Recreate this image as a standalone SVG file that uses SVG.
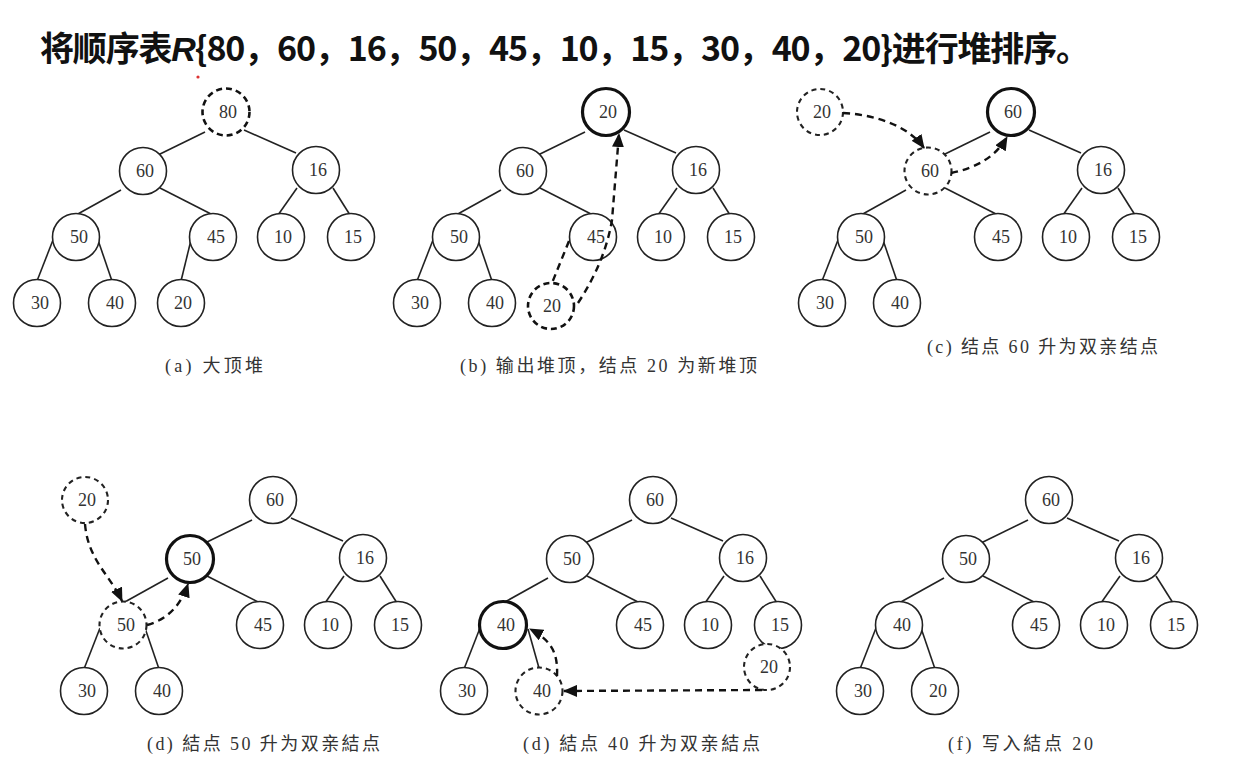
<svg xmlns="http://www.w3.org/2000/svg" width="1242" height="765" viewBox="0 0 1242 765">
<style>
.n{fill:#fff;stroke:#222;stroke-width:1.6}
.nb{fill:#fff;stroke:#111;stroke-width:3.2}
.nd{fill:#fff;stroke:#222;stroke-width:2.1;stroke-dasharray:5 4}
.nd2{fill:#fff;stroke:#111;stroke-width:2.6;stroke-dasharray:6 4}
.t{font-family:"Liberation Serif","DejaVu Serif",serif;font-size:18px;fill:#333;text-anchor:middle}
.e{stroke:#222;stroke-width:1.6;fill:none}
.ed{stroke:#111;stroke-width:2.4;fill:none;stroke-dasharray:7 5}
.cap{font-family:"Liberation Serif","Noto Sans CJK SC",serif;font-size:18px;fill:#333}
.title{font-family:"Noto Sans CJK SC","Liberation Sans",sans-serif;font-size:34px;font-weight:bold;fill:#111}
</style>
<defs>
<marker id="ah" markerUnits="userSpaceOnUse" markerWidth="14" markerHeight="12" viewBox="0 0 14 12" refX="13" refY="6" orient="auto"><path d="M0,0 L14,6 L0,12 z" fill="#111"/></marker>
</defs>

<g id="title">
<text class="title" x="40" y="61" textLength="1050" lengthAdjust="spacing">将顺序表<tspan font-style="italic" font-family="Liberation Sans">R</tspan>{80，60，16，50，45，10，15，30，40，20}进行堆排序。</text>
<circle cx="198" cy="77" r="1.6" fill="#d33"/>
</g>

<!-- Panel (a) -->
<g id="panel-a">
<g id="a-edges">
<line class="e" x1="205" y1="132" x2="158" y2="155"/>
<line class="e" x1="244" y1="130" x2="296" y2="153"/>
<line class="e" x1="121" y1="190" x2="76" y2="215"/>
<line class="e" x1="160" y1="188" x2="213" y2="215"/>
<line class="e" x1="297" y1="188" x2="278" y2="215"/>
<line class="e" x1="333" y1="188" x2="350" y2="215"/>
<line class="e" x1="53" y1="240" x2="37" y2="281"/>
<line class="e" x1="98" y1="240" x2="112" y2="281"/>
<line class="e" x1="191" y1="240" x2="181" y2="281"/>
</g>
<g id="a-80"><circle class="nd2" cx="226" cy="112" r="23.5"/><text class="t" x="228" y="118">80</text></g>
<g id="a-60"><circle class="n" cx="143" cy="171" r="23.5"/><text class="t" x="145" y="177">60</text></g>
<g id="a-16"><circle class="n" cx="316" cy="170" r="23.5"/><text class="t" x="318" y="176">16</text></g>
<g id="a-50"><circle class="n" cx="76" cy="237" r="23.5"/><text class="t" x="79" y="243">50</text></g>
<g id="a-45"><circle class="n" cx="213" cy="237" r="23.5"/><text class="t" x="216" y="243">45</text></g>
<g id="a-10"><circle class="n" cx="281" cy="237" r="23.5"/><text class="t" x="283" y="243">10</text></g>
<g id="a-15"><circle class="n" cx="351" cy="237" r="23.5"/><text class="t" x="353" y="243">15</text></g>
<g id="a-30"><circle class="n" cx="37" cy="303" r="23.5"/><text class="t" x="40" y="309">30</text></g>
<g id="a-40"><circle class="n" cx="112" cy="303" r="23.5"/><text class="t" x="115" y="309">40</text></g>
<g id="a-20"><circle class="n" cx="181" cy="303" r="23.5"/><text class="t" x="183" y="309">20</text></g>
</g>
<text class="cap" x="165" y="372" textLength="98" lengthAdjust="spacing">(a)  大顶堆</text>

<!-- Panel (b) -->
<g id="panel-b" transform="translate(380,0)">
<g id="b-edges">
<line class="e" x1="205" y1="132" x2="158" y2="155"/>
<line class="e" x1="244" y1="130" x2="296" y2="153"/>
<line class="e" x1="121" y1="190" x2="76" y2="215"/>
<line class="e" x1="160" y1="188" x2="213" y2="215"/>
<line class="e" x1="297" y1="188" x2="278" y2="215"/>
<line class="e" x1="333" y1="188" x2="350" y2="215"/>
<line class="e" x1="53" y1="240" x2="37" y2="281"/>
<line class="e" x1="98" y1="240" x2="112" y2="281"/>
</g>
<g id="b-20top"><circle class="nb" cx="226" cy="112" r="23.5"/><text class="t" x="228" y="118">20</text></g>
<g id="b-60"><circle class="n" cx="143" cy="171" r="23.5"/><text class="t" x="145" y="177">60</text></g>
<g id="b-16"><circle class="n" cx="316" cy="170" r="23.5"/><text class="t" x="318" y="176">16</text></g>
<g id="b-50"><circle class="n" cx="76" cy="237" r="23.5"/><text class="t" x="79" y="243">50</text></g>
<g id="b-45"><circle class="n" cx="213" cy="237" r="23.5"/><text class="t" x="216" y="243">45</text></g>
<g id="b-10"><circle class="n" cx="281" cy="237" r="23.5"/><text class="t" x="283" y="243">10</text></g>
<g id="b-15"><circle class="n" cx="351" cy="237" r="23.5"/><text class="t" x="353" y="243">15</text></g>
<g id="b-30"><circle class="n" cx="37" cy="303" r="23.5"/><text class="t" x="40" y="309">30</text></g>
<g id="b-40"><circle class="n" cx="112" cy="303" r="23.5"/><text class="t" x="115" y="309">40</text></g>
<g id="b-20old"><circle class="nd2" cx="171" cy="306" r="23"/><text class="t" x="172" y="312">20</text></g>
<g id="b-arrows">
<line class="ed" x1="189" y1="241" x2="172" y2="283"/>
<path class="ed" d="M198,303 Q225,262 232,220 L239,134" marker-end="url(#ah)"/>
</g>
</g>
<text class="cap" x="460" y="372" textLength="297" lengthAdjust="spacing">(b)  输出堆顶，结点 20 为新堆顶</text>

<!-- Panel (c) -->
<g id="panel-c" transform="translate(785,0)">
<g id="c-edges">
<line class="e" x1="205" y1="132" x2="158" y2="155"/>
<line class="e" x1="244" y1="130" x2="296" y2="153"/>
<line class="e" x1="121" y1="190" x2="76" y2="215"/>
<line class="e" x1="160" y1="188" x2="213" y2="215"/>
<line class="e" x1="297" y1="188" x2="278" y2="215"/>
<line class="e" x1="333" y1="188" x2="350" y2="215"/>
<line class="e" x1="53" y1="240" x2="37" y2="281"/>
<line class="e" x1="98" y1="240" x2="112" y2="281"/>
</g>
<g id="c-60top"><circle class="nb" cx="226" cy="112" r="23.5"/><text class="t" x="228" y="118">60</text></g>
<g id="c-60old"><circle class="nd" cx="143" cy="171" r="23.5"/><text class="t" x="145" y="177">60</text></g>
<g id="c-16"><circle class="n" cx="316" cy="170" r="23.5"/><text class="t" x="318" y="176">16</text></g>
<g id="c-50"><circle class="n" cx="76" cy="237" r="23.5"/><text class="t" x="79" y="243">50</text></g>
<g id="c-45"><circle class="n" cx="213" cy="237" r="23.5"/><text class="t" x="216" y="243">45</text></g>
<g id="c-10"><circle class="n" cx="281" cy="237" r="23.5"/><text class="t" x="283" y="243">10</text></g>
<g id="c-15"><circle class="n" cx="351" cy="237" r="23.5"/><text class="t" x="353" y="243">15</text></g>
<g id="c-30"><circle class="n" cx="37" cy="303" r="23.5"/><text class="t" x="40" y="309">30</text></g>
<g id="c-40"><circle class="n" cx="112" cy="303" r="23.5"/><text class="t" x="115" y="309">40</text></g>
<g id="c-20"><circle class="nd" cx="35" cy="112" r="23"/><text class="t" x="37" y="118">20</text></g>
<g id="c-arrows">
<path class="ed" d="M58,113 C95,115 125,128 139,148" marker-end="url(#ah)"/>
<path class="ed" d="M166,173 C190,168 210,158 222,137" marker-end="url(#ah)"/>
</g>
</g>
<text class="cap" x="927" y="353" textLength="231" lengthAdjust="spacing">(c)  结点 60 升为双亲结点</text>

<!-- Panel (d) -->
<g id="panel-d" transform="translate(47,388)">
<g id="d-edges">
<line class="e" x1="205" y1="132" x2="158" y2="155"/>
<line class="e" x1="244" y1="130" x2="296" y2="153"/>
<line class="e" x1="121" y1="190" x2="76" y2="215"/>
<line class="e" x1="160" y1="188" x2="213" y2="215"/>
<line class="e" x1="297" y1="188" x2="278" y2="215"/>
<line class="e" x1="333" y1="188" x2="350" y2="215"/>
<line class="e" x1="53" y1="240" x2="37" y2="281"/>
<line class="e" x1="98" y1="240" x2="112" y2="281"/>
</g>
<g id="d-60"><circle class="n" cx="226" cy="112" r="23.5"/><text class="t" x="228" y="118">60</text></g>
<g id="d-50new"><circle class="nb" cx="143" cy="171" r="23.5"/><text class="t" x="145" y="177">50</text></g>
<g id="d-16"><circle class="n" cx="316" cy="170" r="23.5"/><text class="t" x="318" y="176">16</text></g>
<g id="d-50old"><circle class="nd" cx="76" cy="237" r="23.5"/><text class="t" x="79" y="243">50</text></g>
<g id="d-45"><circle class="n" cx="213" cy="237" r="23.5"/><text class="t" x="216" y="243">45</text></g>
<g id="d-10"><circle class="n" cx="281" cy="237" r="23.5"/><text class="t" x="283" y="243">10</text></g>
<g id="d-15"><circle class="n" cx="351" cy="237" r="23.5"/><text class="t" x="353" y="243">15</text></g>
<g id="d-30"><circle class="n" cx="37" cy="303" r="23.5"/><text class="t" x="40" y="309">30</text></g>
<g id="d-40"><circle class="n" cx="112" cy="303" r="23.5"/><text class="t" x="115" y="309">40</text></g>
<g id="d-20"><circle class="nd" cx="38" cy="112" r="23"/><text class="t" x="40" y="118">20</text></g>
<g id="d-arrows">
<path class="ed" d="M38,136 C41,172 63,187 75,213" marker-end="url(#ah)"/>
<path class="ed" d="M100,237 C118,232 133,220 141,196" marker-end="url(#ah)"/>
</g>
</g>
<text class="cap" x="147" y="750" textLength="233" lengthAdjust="spacing">(d)  結点 50 升为双亲結点</text>

<!-- Panel (e) -->
<g id="panel-e" transform="translate(427,388)">
<g id="e-edges">
<line class="e" x1="205" y1="132" x2="158" y2="155"/>
<line class="e" x1="244" y1="130" x2="296" y2="153"/>
<line class="e" x1="121" y1="190" x2="76" y2="215"/>
<line class="e" x1="160" y1="188" x2="213" y2="215"/>
<line class="e" x1="297" y1="188" x2="278" y2="215"/>
<line class="e" x1="333" y1="188" x2="350" y2="215"/>
<line class="e" x1="53" y1="240" x2="37" y2="281"/>
<line class="e" x1="101" y1="241" x2="112" y2="280"/>
</g>
<g id="e-60"><circle class="n" cx="226" cy="112" r="23.5"/><text class="t" x="228" y="118">60</text></g>
<g id="e-50"><circle class="n" cx="143" cy="171" r="23.5"/><text class="t" x="145" y="177">50</text></g>
<g id="e-16"><circle class="n" cx="316" cy="170" r="23.5"/><text class="t" x="318" y="176">16</text></g>
<g id="e-40new"><circle class="nb" cx="76" cy="237" r="23.5"/><text class="t" x="79" y="243">40</text></g>
<g id="e-45"><circle class="n" cx="213" cy="237" r="23.5"/><text class="t" x="216" y="243">45</text></g>
<g id="e-10"><circle class="n" cx="281" cy="237" r="23.5"/><text class="t" x="283" y="243">10</text></g>
<g id="e-15"><circle class="n" cx="351" cy="237" r="23.5"/><text class="t" x="353" y="243">15</text></g>
<g id="e-30"><circle class="n" cx="37" cy="303" r="23.5"/><text class="t" x="40" y="309">30</text></g>
<g id="e-40old"><circle class="nd" cx="112" cy="303" r="23.5"/><text class="t" x="115" y="309">40</text></g>
<g id="e-20"><circle class="nd" cx="340" cy="279" r="23"/><text class="t" x="342" y="285">20</text></g>
<g id="e-arrows">
<path class="ed" d="M130,288 C131,267 126,253 103,241" marker-end="url(#ah)"/>
<path class="ed" d="M335,302 L137,303" marker-end="url(#ah)"/>
</g>
</g>
<text class="cap" x="523" y="750" textLength="237" lengthAdjust="spacing">(d)  結点 40 升为双亲結点</text>

<!-- Panel (f) -->
<g id="panel-f" transform="translate(823,388)">
<g id="f-edges">
<line class="e" x1="205" y1="132" x2="158" y2="155"/>
<line class="e" x1="244" y1="130" x2="296" y2="153"/>
<line class="e" x1="121" y1="190" x2="76" y2="215"/>
<line class="e" x1="160" y1="188" x2="213" y2="215"/>
<line class="e" x1="297" y1="188" x2="278" y2="215"/>
<line class="e" x1="333" y1="188" x2="350" y2="215"/>
<line class="e" x1="53" y1="240" x2="37" y2="281"/>
<line class="e" x1="98" y1="240" x2="112" y2="281"/>
</g>
<g id="f-60"><circle class="n" cx="226" cy="112" r="23.5"/><text class="t" x="228" y="118">60</text></g>
<g id="f-50"><circle class="n" cx="143" cy="171" r="23.5"/><text class="t" x="145" y="177">50</text></g>
<g id="f-16"><circle class="n" cx="316" cy="170" r="23.5"/><text class="t" x="318" y="176">16</text></g>
<g id="f-40"><circle class="n" cx="76" cy="237" r="23.5"/><text class="t" x="79" y="243">40</text></g>
<g id="f-45"><circle class="n" cx="213" cy="237" r="23.5"/><text class="t" x="216" y="243">45</text></g>
<g id="f-10"><circle class="n" cx="281" cy="237" r="23.5"/><text class="t" x="283" y="243">10</text></g>
<g id="f-15"><circle class="n" cx="351" cy="237" r="23.5"/><text class="t" x="353" y="243">15</text></g>
<g id="f-30"><circle class="n" cx="37" cy="303" r="23.5"/><text class="t" x="40" y="309">30</text></g>
<g id="f-20"><circle class="n" cx="112" cy="303" r="23.5"/><text class="t" x="115" y="309">20</text></g>
</g>
<text class="cap" x="948" y="750" textLength="145" lengthAdjust="spacing">(f)  写入結点 20</text>
</svg>
